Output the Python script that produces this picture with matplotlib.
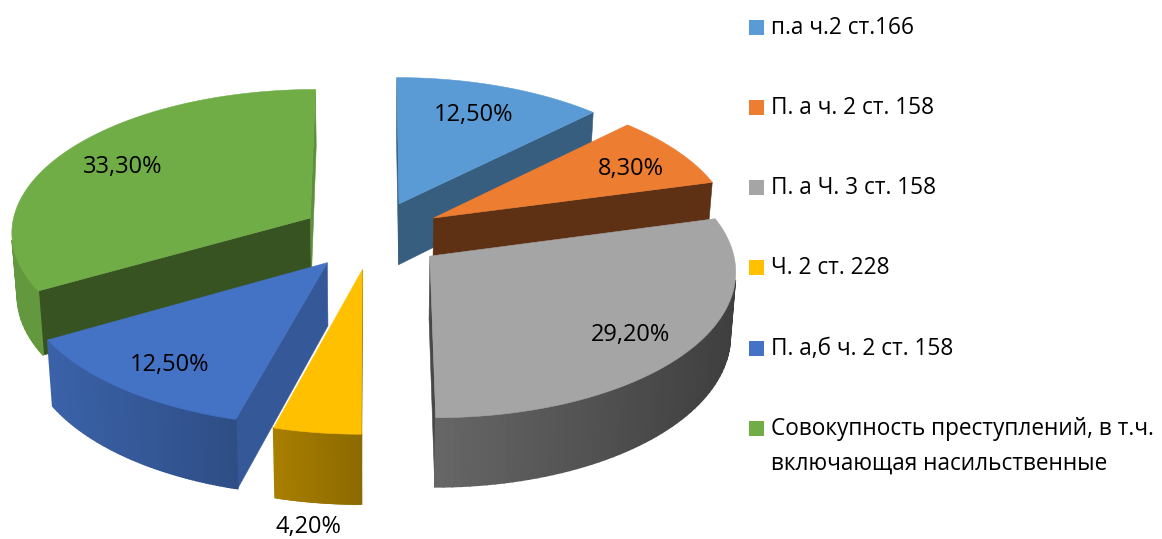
import numpy as np
import matplotlib
matplotlib.use('Agg')
import matplotlib.pyplot as plt
from matplotlib.colors import to_rgb

# --- datos ---
categorias = ["п.а ч.2 ст.166", "П. а ч. 2 ст. 158", "П. а Ч. 3 ст. 158",
              "Ч. 2 ст. 228", "П. а,б ч. 2 ст. 158",
              "Совокупность преступлений, в т.ч.\nвключающая насильственные"]
valores = [12.5, 8.3, 29.2, 4.2, 12.5, 33.3]

# --- estilo ---
colores = ['#5B9BD5', '#ED7D31', '#A5A5A5', '#FFC000', '#4472C4', '#70AD47']
corte_ini = ['#375D7F', '#5E3114', '#474747', '#8C6A00', '#355899', '#375321']
corte_fin = ['#375D7F', '#5E3114', '#474747', '#8C6A00', '#355899', '#5E8F3C']
sombra_pared = [(.7, .6), (.5, .4), (.62, .38), (.66, .55), (.86, .68), (.88, .88)]
orden = [0, 1, 5, 2, 4, 3]
pos_etiquetas = [(474, 115), (631, 169), (630, 335), (308, 527), (170, 365), (123, 167)]
y_leyenda = [27, 107, 187, 267, 348, 428]

CX, CY = 372, 235     # centro de la torta en pixeles
RX, RY = 300, 143
K = 0.09              # perspectiva
EXPLOTA = 0.24
ALTO = 62

plt.rcParams['font.family'] = ['Open Sans', 'DejaVu Sans']

fig = plt.figure(figsize=(11.62, 5.39), dpi=100)
ax = fig.add_axes([0, 0, 1, 1])
ax.set_xlim(0, 1162)
ax.set_ylim(539, 0)
ax.axis('off')


def proyectar(x, y, abajo=False):
    s = 1 / (1 + K * y)
    px = RX * x * s
    py = CY - RY * y * s
    if abajo:
        px = px * 0.985
        py = py + ALTO * s
    return CX + px, py


def area(pts):
    xs, ys = zip(*pts)
    return 0.5 * sum(xs[i] * ys[(i + 1) % len(pts)] - xs[(i + 1) % len(pts)] * ys[i]
                     for i in range(len(pts)))


def dibujar_cara(pts, color, lw=0.4):
    # en pantalla y crece hacia abajo: area positiva = cara visible
    if area(pts) > 0:
        ax.fill(*zip(*pts), color=color, lw=lw)


limites = np.cumsum([0] + valores) / sum(valores) * 2 * np.pi

for i in orden:
    t0, t1 = limites[i], limites[i + 1]
    medio = (t0 + t1) / 2
    ox, oy = EXPLOTA * np.sin(medio), EXPLOTA * np.cos(medio)
    ts = np.linspace(t0, t1, 70)
    xs = ox + np.sin(ts)
    ys = oy + np.cos(ts)
    arriba = [proyectar(a, b) for a, b in zip(xs, ys)]
    fondo = [proyectar(a, b, True) for a, b in zip(xs, ys)]
    a_top = proyectar(ox, oy)
    a_bot = proyectar(ox, oy, True)

    # cortes radiales
    dibujar_cara([a_top, a_bot, fondo[0], arriba[0]], corte_ini[i])
    dibujar_cara([a_top, arriba[-1], fondo[-1], a_bot], corte_fin[i])

    # pared exterior con degradado de izquierda a derecha
    px = [p[0] for p in arriba]
    xmin, xmax = min(px), max(px)
    izq, der = sombra_pared[i]
    base = np.array(to_rgb(colores[i]))
    for j in range(len(arriba) - 1):
        f = ((px[j] + px[j + 1]) / 2 - xmin) / max(xmax - xmin, 1)
        dibujar_cara([arriba[j], fondo[j], fondo[j + 1], arriba[j + 1]],
                     tuple(base * (izq + (der - izq) * f)), lw=1.2)

    # cara superior
    ax.fill(*zip(*([a_top] + arriba)), color=colores[i], lw=0.4)

# etiquetas
for v, (x, y) in zip(valores, pos_etiquetas):
    txt = f"{v:.2f}".replace('.', ',') + "%"
    ax.text(x, y, txt, ha='center', va='center', fontsize=17, color='black', zorder=5)

# leyenda
for c, nombre, y in zip(colores, categorias, y_leyenda):
    ax.add_patch(plt.Rectangle((749, y - 7.5), 15, 15, color=c, lw=0, zorder=5))
    ax.text(771, y - 11, nombre, ha='left', va='top', fontsize=16.3, color='black',
            linespacing=1.6, zorder=5)

fig.savefig('out.png', dpi=100, facecolor='white')
plt.close()
